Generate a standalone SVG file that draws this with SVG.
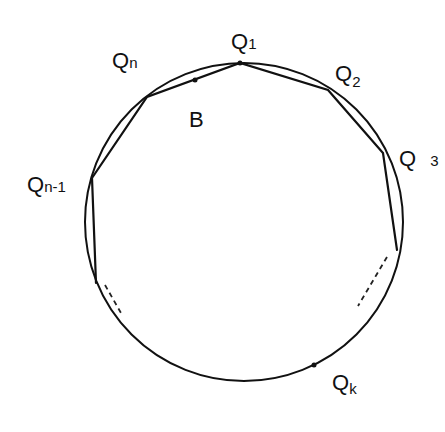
<svg xmlns="http://www.w3.org/2000/svg" width="445" height="432" viewBox="0 0 445 432">
<style>
.c{fill:none;stroke:#111;stroke-width:2}
.ch{fill:none;stroke:#111;stroke-width:2.2;stroke-linecap:round}
.d{fill:none;stroke:#222;stroke-width:1.8;stroke-dasharray:5 4}
.t{font-family:"Liberation Sans",Arial,sans-serif;fill:#111;font-size:22px}
.s{font-size:15px}
.dot{fill:#111}
</style>
<rect width="445" height="432" fill="#fff"/>
<circle id="circle" class="c" cx="244" cy="222" r="159"/>
<g id="connectors">
<polyline class="ch" points="96,283 92,178 147,97 240,63 328,90 383,153 397,250"/>
<path class="d" d="M105,285 L121,313"/>
<path class="d" d="M387,257 L358,306"/>
</g>
<g id="Q1"><circle class="dot" cx="240" cy="63" r="2.5"/><text class="t" x="231" y="49">Q<tspan class="s" dy="0">1</tspan></text></g>
<g id="Qn"><text class="t" x="112" y="68">Q<tspan class="s">n</tspan></text></g>
<g id="B"><circle class="dot" cx="195" cy="80" r="2.5"/><text class="t" x="189" y="127">B</text></g>
<g id="Q2"><text class="t" x="335" y="81">Q<tspan class="s" dy="6">2</tspan></text></g>
<g id="Q3"><text class="t" x="399" y="166">Q<tspan class="s" dx="14">3</tspan></text></g>
<g id="Qn-1"><text class="t" x="27" y="192">Q<tspan class="s">n-1</tspan></text></g>
<g id="Qk"><circle class="dot" cx="314" cy="365" r="2.5"/><text class="t" x="332" y="390">Q<tspan class="s" dy="4">k</tspan></text></g>
</svg>
